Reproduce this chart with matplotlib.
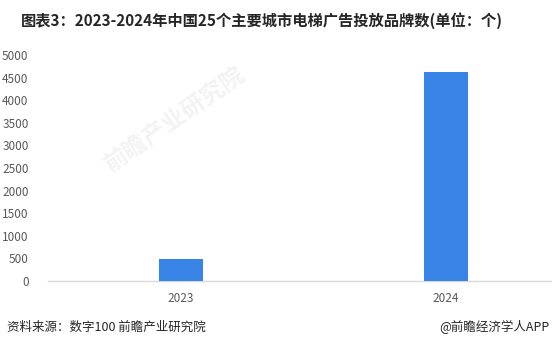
import matplotlib
matplotlib.use('Agg')
import matplotlib.pyplot as plt
import numpy as np

plt.rcParams['font.family'] = ['Noto Sans CJK SC', 'DejaVu Sans']

# 数据
years = ['2023', '2024']
brands = [490, 4620]
y_ticks = list(range(0, 5001, 500))

fig = plt.figure(figsize=(5.52, 3.56), dpi=100)
ax = fig.add_axes([48 / 552, 1 - 281 / 356, 1 - 48 / 552, 226 / 356])

x = np.arange(len(years))
ax.bar(x, brands, width=0.166, color='#3784E6', zorder=3)

ax.set_xlim(-0.502, 1.4)
ax.set_ylim(0, 5000)
ax.set_xticks(x)
ax.set_xticklabels(years)
ax.set_yticks(y_ticks)
ax.tick_params(axis='both', length=0, labelsize=8.5, colors='#595959')
ax.tick_params(axis='y', pad=14)
ax.tick_params(axis='x', pad=8)
for s in ['top', 'right', 'left']:
    ax.spines[s].set_visible(False)
ax.spines['bottom'].set_color('#d9d9d9')
ax.spines['bottom'].set_linewidth(1)

# 水印
fig.text(175 / 552, 1 - 120 / 356, '前瞻产业研究院', fontsize=17, color='#000000', alpha=0.05,
         rotation=35, ha='center', va='center', fontweight='bold')

fig.text(0.475, 1 - 21 / 356, '图表3：2023-2024年中国25个主要城市电梯广告投放品牌数(单位：个)',
         ha='center', va='center', fontsize=11, fontweight='bold', color='#262626')
fig.text(7 / 552, 1 - 327 / 356, '资料来源：数字100 前瞻产业研究院',
         ha='left', va='center', fontsize=9, color='#262626')
fig.text(549 / 552, 1 - 327 / 356, '@前瞻经济学人APP',
         ha='right', va='center', fontsize=9, color='#262626')

fig.savefig('out.png', dpi=100)
